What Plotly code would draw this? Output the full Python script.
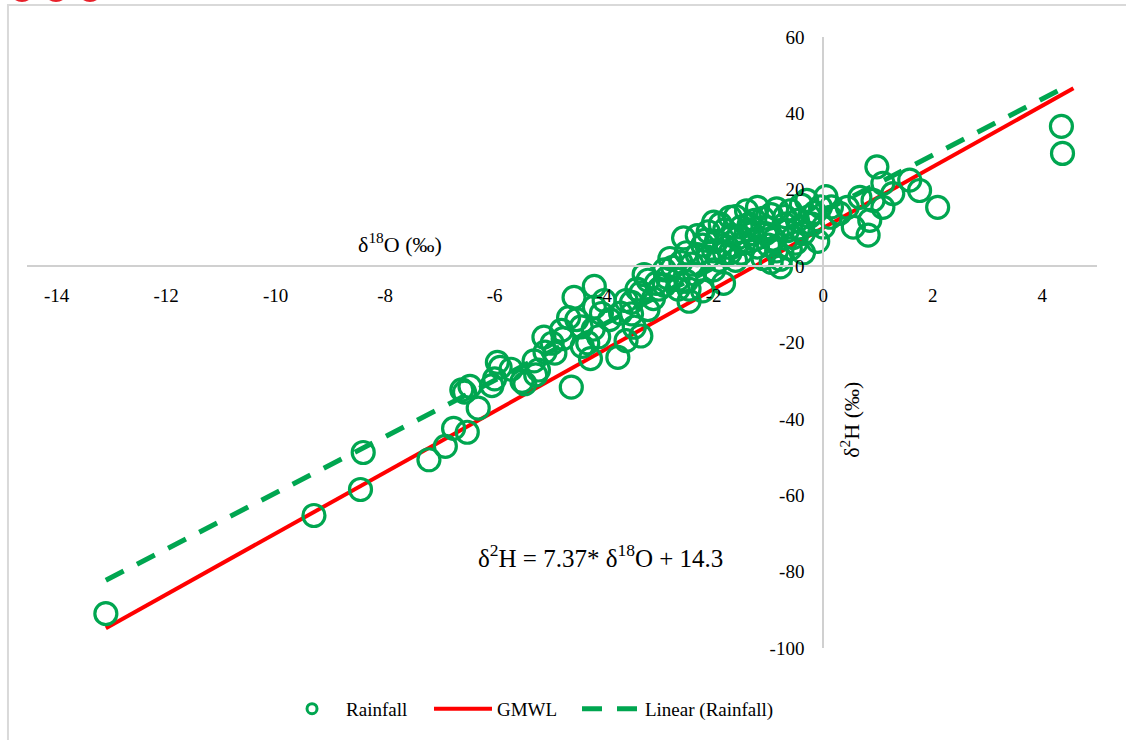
import plotly.graph_objects as go

# Rainfall isotope samples: delta-18O and delta-2H (per mil)
d18o = [
    -13.1, -9.3, -8.45, -8.4, -7.2, -6.9, -6.75, -6.5, -6.3, -6.6,
    -6.45, -6.55, -6.05, -6.0, -5.95, -5.9, -5.45, -5.5, -5.25, -5.28,
    -5.2, -5.08, -5.1, -4.95, -4.9, -4.78, -4.6, -4.55, -4.42, -4.3,
    -4.25, -4.18, -4.18, -4.05, -4.1, -3.75, -3.7, -3.5, -3.45, -3.33,
    -3.27, -3.33, -3.2, -4.5, -4.0, -3.2, -3.0, -2.9, -2.75, -2.65,
    -2.55, -2.6, -2.45, -2.45, -2.35, -2.3, -2.2, -2.1, -2.1, -2.0,
    -1.95, -1.88, -1.82, -1.75, -1.7, -1.65, -1.6, -1.5, -1.5, -1.45,
    -1.4, -1.3, -1.25, -1.2, -1.2, -1.1, -1.0, -0.95, -0.9, -0.85,
    -0.78, -0.78, -0.7, -0.65, -0.6, -0.5, -0.47, -0.4, -0.36, -0.36,
    -0.3, -0.2, -0.15, -0.1, 0.05, 0.0, 0.13, 0.15, 0.3, 0.44,
    0.55, 0.67, 0.82, 0.85, 0.91, 0.98, 1.09, 1.09, 1.27, 1.58,
    1.76, 2.09, 4.35, 4.37, -2.9, -2.5, -2.2, -3.1, -2.0, -1.9,
    -1.0, -0.6, -3.6, -3.4, -5.7, -2.8, -2.4, -1.8, -1.35, -0.55,
    -2.3, -2.0, -1.8, -1.6, -1.35, -1.1, -0.85, -0.7, -0.25, -0.05,
    -1.55, -1.25, -2.15, -2.5, -1.7, -1.05, -0.45, -0.95, -2.65, -2.85,
    -3.05, -3.5, -3.9, -4.2, -4.4, -4.75, -3.6, -4.65,
]
d2h = [
    -91.0, -65.3, -58.5, -48.8, -50.7, -47.2, -42.5, -43.5, -37.2, -32.4,
    -31.5, -33.0, -31.3, -29.5, -25.2, -26.5, -30.8, -30.2, -28.5, -24.8,
    -27.2, -22.5, -18.6, -20.2, -22.8, -16.8, -31.7, -8.2, -15.9, -20.1,
    -24.2, -5.3, -10.7, -12.4, -18.5, -23.9, -12.3, -12.5, -16.0, -18.3,
    -2.2, -7.0, -11.4, -14.0, -9.0, -3.7, -6.0, -5.0, -0.3, -3.5,
    7.4, 1.0, -9.2, -6.0, -2.0, 3.0, 5.5, 9.0, 2.3, -1.0,
    6.5, 11.0, -4.5, 5.0, 12.8, 8.0, 1.5, 10.2, 3.4, 6.0,
    14.5, 8.5, 12.0, 15.4, 5.0, 2.0, 10.0, 13.5, 7.0, 4.0,
    -0.2, 1.8, 11.0, 9.3, 14.5, 6.0, 12.0, 16.0, 3.5, 8.6,
    17.2, 11.0, 14.0, 6.5, 18.2, 10.2, 12.8, 15.5, 13.8, 15.4,
    10.2, 18.0, 8.1, 12.0, 17.2, 26.0, 21.7, 15.4, 19.0, 22.5,
    19.8, 15.4, 36.6, 29.5, -1.0, -4.0, -6.5, -8.5, 4.0, 1.5,
    5.5, 4.5, -9.0, -6.0, -27.0, 2.0, 0.5, 3.5, 9.5, 7.5,
    8.0, 11.5, 9.5, 13.0, 11.0, 12.5, 15.0, 13.0, 13.0, 15.5,
    7.5, 7.0, 6.8, 3.5, 3.5, 8.5, 10.0, 1.0, -6.0, -3.0,
    -4.5, -9.5, -14.0, -16.5, -21.0, -19.0, -19.5, -13.5,
]

# Regression of the rainfall samples and the Global Meteoric Water Line
fit_slope, fit_intercept = 7.37, 14.3
gmwl_slope, gmwl_intercept = 8.0, 10.0

x_ticks = [-14, -12, -10, -8, -6, -4, -2, 0, 2, 4]
y_ticks = [-100, -80, -60, -40, -20, 0, 20, 40, 60]
x_range = [-14.54, 5.0]
y_range = [-100, 60]

GREEN = "#00A650"
RED = "#FF0000"
SERIF = "Liberation Serif, Times New Roman, serif"

x_ends = [min(d18o), max(d18o)]
fit_y = [fit_slope * v + fit_intercept for v in x_ends]
gmwl_x = [min(d18o), max(d18o) + 0.2]
gmwl_y = [gmwl_slope * v + gmwl_intercept for v in gmwl_x]

fig = go.Figure()

fig.add_trace(go.Scatter(
    x=gmwl_x, y=gmwl_y, mode="lines", name="GMWL", legend="legend2",
    line=dict(color=RED, width=4),
))
fig.add_trace(go.Scatter(
    x=x_ends, y=fit_y, mode="lines", name="Linear (Rainfall)", legend="legend3",
    line=dict(color=GREEN, width=5, dash="20px,15px"),
))
fig.add_trace(go.Scatter(
    x=d18o, y=d2h, mode="markers", name="Rainfall", showlegend=False,
    marker=dict(symbol="circle", size=22, color="rgba(0,0,0,0)",
                line=dict(color=GREEN, width=3.2)),
))
# small legend key for the rainfall samples
fig.add_trace(go.Scatter(
    x=[None], y=[None], mode="markers", name="Rainfall", legend="legend",
    marker=dict(symbol="circle", size=10, color="rgba(0,0,0,0)",
                line=dict(color=GREEN, width=3)),
))

# paper coordinate where the axes cross at the origin
x_cross = (0 - x_range[0]) / (x_range[1] - x_range[0])
y_cross = (0 - y_range[0]) / (y_range[1] - y_range[0])


def legend_box(x):
    return dict(orientation="h", x=x, xanchor="left", y=-0.0995,
                yanchor="middle", font=dict(size=19), itemwidth=58,
                bgcolor="rgba(0,0,0,0)")


fig.update_layout(
    width=1126, height=740,
    margin=dict(l=27, r=29, t=37, b=90),
    paper_bgcolor="white", plot_bgcolor="white",
    font=dict(family=SERIF, size=19, color="black"),
    xaxis=dict(
        range=x_range, tickvals=x_ticks, ticktext=[str(v) for v in x_ticks],
        anchor="free", position=y_cross, showline=True, linecolor="#d0d0d0",
        linewidth=2, showgrid=False, zeroline=False, ticks="",
        ticklabelstandoff=12, tickfont=dict(size=19),
    ),
    yaxis=dict(
        range=y_range, tickvals=y_ticks, ticktext=[str(v) for v in y_ticks],
        anchor="free", position=x_cross, showline=True, linecolor="#d0d0d0",
        linewidth=2, showgrid=False, zeroline=False, ticks="",
        ticklabelstandoff=14, tickfont=dict(size=19),
    ),
    legend=legend_box(0.2346),
    legend2=legend_box(0.3757),
    legend3=legend_box(0.514),
    showlegend=True,
)

fig.add_annotation(
    x=-7.73, y=0, xref="x", yref="y", yshift=23, showarrow=False,
    text="δ<sup>18</sup>O (‰)", font=dict(size=22),
)
fig.add_annotation(
    x=0, y=-40.2, xref="x", yref="y", xshift=26, showarrow=False,
    text="δ<sup>2</sup>H (‰)", textangle=-90, font=dict(size=22),
)
fig.add_annotation(
    x=-4.07, y=-76, xref="x", yref="y", showarrow=False,
    text="δ<sup>2</sup>H = 7.37* δ<sup>18</sup>O + 14.3", font=dict(size=25),
)

# chart frame and the cut-off red emblem along the top edge
fig.add_shape(type="rect", xref="paper", yref="paper",
              x0=-0.0178, x1=1.05, y0=-0.2, y1=1.0522,
              line=dict(color="#d9d9d9", width=2), layer="below")
for cx in (22, 56, 90):
    fig.add_shape(type="circle", xref="paper", yref="paper",
                  x0=(cx - 12 - 27) / 1070, x1=(cx + 12 - 27) / 1070,
                  y0=(650 - 2) / 613, y1=(650 + 22) / 613,
                  fillcolor="#e8202a", line=dict(width=0))

fig.write_html("out.html")
